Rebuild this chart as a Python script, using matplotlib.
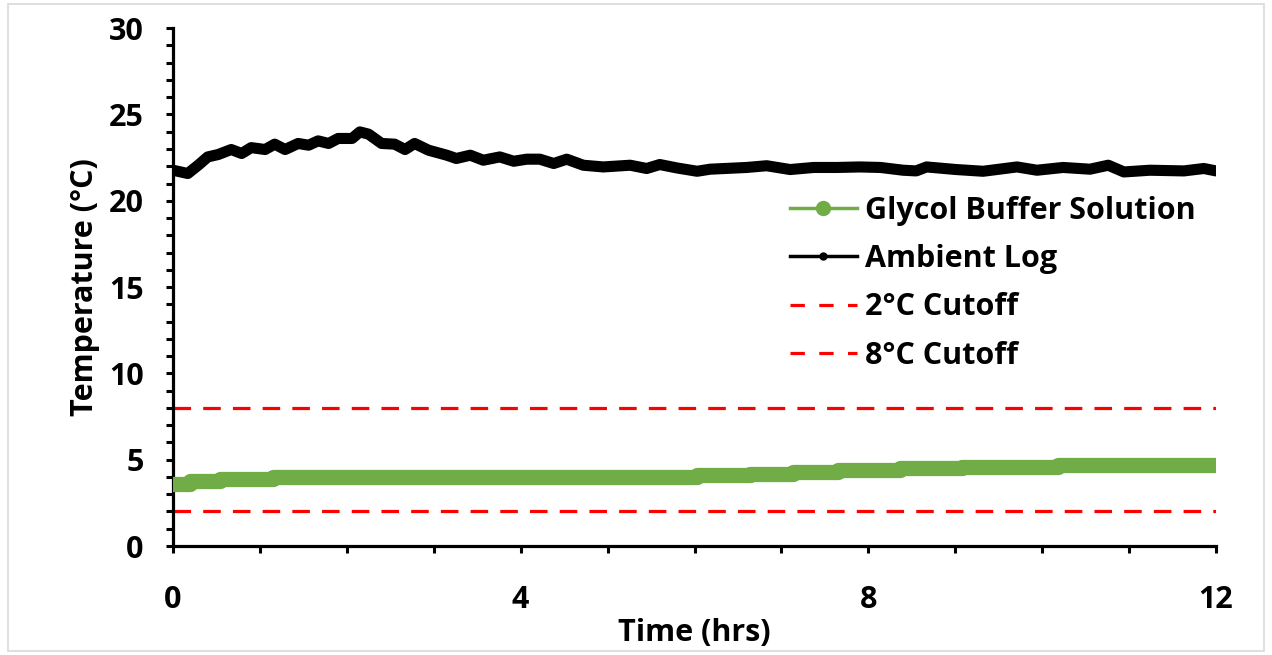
"""
Temperature log: glycol buffer solution vs ambient over 12 hours,
with 2 and 8 degC cutoff lines.
"""

import matplotlib
matplotlib.use("Agg")
import matplotlib.pyplot as plt
from matplotlib.lines import Line2D
from matplotlib.patches import Rectangle
from matplotlib.ticker import MultipleLocator

# Ambient log readings (hrs, degC)
ambient_t = [0.0, 0.17, 0.29, 0.40, 0.52, 0.67, 0.79, 0.90, 1.06, 1.17, 1.29,
             1.44, 1.56, 1.67, 1.79, 1.90, 2.06, 2.15, 2.25, 2.40, 2.55, 2.67,
             2.78, 2.94, 3.15, 3.26, 3.42, 3.57, 3.76, 3.92, 4.07, 4.22, 4.38,
             4.53, 4.72, 4.95, 5.26, 5.45, 5.60, 5.80, 6.03, 6.18, 6.60, 6.83,
             7.10, 7.37, 7.64, 7.90, 8.14, 8.40, 8.55, 8.67, 9.01, 9.32, 9.71,
             9.94, 10.24, 10.55, 10.76, 10.94, 11.24, 11.63, 11.86, 12.0]
ambient_temp = [21.77, 21.58, 22.06, 22.54, 22.68, 22.97, 22.74, 23.08, 22.97,
                23.28, 22.97, 23.32, 23.22, 23.47, 23.32, 23.61, 23.61, 23.99,
                23.86, 23.32, 23.28, 22.97, 23.32, 22.93, 22.64, 22.45, 22.64,
                22.35, 22.54, 22.29, 22.41, 22.41, 22.16, 22.41, 22.06, 21.96,
                22.06, 21.87, 22.10, 21.90, 21.71, 21.83, 21.93, 22.03, 21.81,
                21.93, 21.93, 21.96, 21.93, 21.77, 21.73, 21.96, 21.81, 21.71,
                21.96, 21.77, 21.93, 21.83, 22.06, 21.67, 21.77, 21.73, 21.87,
                21.73]

# Glycol buffer solution: step changes (hrs, degC)
glycol_t = [0.0, 0.20, 0.54, 1.15, 6.03, 6.64, 7.13, 7.65, 8.36, 9.08, 10.18, 12.0]
glycol_temp = [3.6, 3.75, 3.9, 4.0, 4.1, 4.2, 4.3, 4.4, 4.5, 4.6, 4.7, 4.7]

cutoffs = [2, 8]
cutoff_labels = ["2°C Cutoff", "8°C Cutoff"]

GREEN = "#70ad47"
RED = "#ff0000"
FS = 22

plt.rcParams["font.family"] = ["Open Sans", "DejaVu Sans"]
plt.rcParams["font.weight"] = "bold"

fig = plt.figure(figsize=(12.72, 6.55), dpi=100)
ax = fig.add_axes([0.136, 0.1664, 0.820, 0.7906])

# chart-area border
fig.patches.append(Rectangle((0.006, 0.006), 0.988, 0.988, transform=fig.transFigure,
                             fill=False, edgecolor="#d9d9d9", linewidth=1.2))

for y in cutoffs:
    ax.plot([0, 12], [y, y], color=RED, lw=2.3, dashes=(5.5, 3.8), zorder=2)

ax.plot(glycol_t, glycol_temp, drawstyle="steps-post", color=GREEN, lw=11,
        solid_capstyle="round", solid_joinstyle="round", zorder=3)
ax.plot(ambient_t, ambient_temp, color="black", lw=8,
        solid_capstyle="round", solid_joinstyle="round", zorder=4)

ax.set_xlim(0, 12)
ax.set_ylim(0, 30)
ax.xaxis.set_major_locator(MultipleLocator(4))
ax.xaxis.set_minor_locator(MultipleLocator(1))
ax.yaxis.set_major_locator(MultipleLocator(5))
ax.yaxis.set_minor_locator(MultipleLocator(1))

for side in ["top", "right"]:
    ax.spines[side].set_visible(False)
for side in ["left", "bottom"]:
    ax.spines[side].set_linewidth(2.3)
    ax.spines[side].set_clip_on(False)

ax.tick_params(which="both", direction="out", length=5, width=2.2)
ax.tick_params(axis="y", which="major", pad=16, labelsize=FS)
ax.tick_params(axis="x", which="major", pad=23, labelsize=FS)

ax.set_xlabel("Time (hrs)", fontsize=FS, fontweight="bold", labelpad=2)
ax.set_ylabel("Temperature (°C)", fontsize=FS, fontweight="bold", labelpad=6)

handles = [
    Line2D([], [], color=GREEN, lw=2.5, marker="o", ms=10),
    Line2D([], [], color="black", lw=2.5, marker="o", ms=5),
    Line2D([], [], color=RED, lw=2.3, dashes=(4.5, 4.5)),
    Line2D([], [], color=RED, lw=2.3, dashes=(4.5, 4.5)),
]
labels = ["Glycol Buffer Solution", "Ambient Log"] + cutoff_labels
ax.legend(handles, labels, loc="upper left", bbox_to_anchor=(0.5795, 0.70),
          frameon=False, fontsize=FS, handlelength=2.2, handletextpad=0.25,
          labelspacing=0.6, borderaxespad=0)

fig.savefig("out.png", dpi=100)
